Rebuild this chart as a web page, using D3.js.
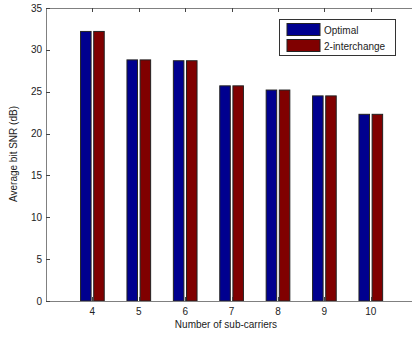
<!DOCTYPE html>
<html>
  <head>
    <title>Average bit SNR</title>
    <script src="https://cdn.jsdelivr.net/npm/d3@7"></script>
    <style>
      body { margin: 0; background: #fff; }
      text { font-family: "Liberation Sans", Arial, sans-serif; font-size: 10px; fill: #222; }
    </style>
  </head>
  <body>
    <svg id="container" width="412" height="337"></svg>
  </body>
  <script>
    const subCarriers = [4, 5, 6, 7, 8, 9, 10];
    const seriesNames = ["Optimal", "2-interchange"];
    const optimal = [32.2, 28.8, 28.7, 25.7, 25.2, 24.5, 22.3];
    const interchange = [32.2, 28.8, 28.7, 25.7, 25.2, 24.5, 22.3];
    const yTicks = [0, 5, 10, 15, 20, 25, 30, 35];
    const colors = ["#00008f", "#800000"];

    const svg = d3.select("#container");
    const plotLeft = 46, plotTop = 8, plotBottom = 301;

    const x = d3.scaleLinear().domain([3, 11]).range([plotLeft, plotLeft + 8 * 46.4]);
    const y = d3.scaleLinear().domain([0, 35]).range([plotBottom, plotTop]);
    const step = x(1) - x(0);
    // bars in a group, offset around the category centre
    const x1 = d3.scaleBand().domain(seriesNames)
      .range([-0.255 * step, 0.255 * step]).paddingInner(0.2);

    const rows = subCarriers.map((c, i) => ({ c, vals: [optimal[i], interchange[i]] }));

    // bars
    const groups = svg.selectAll(".grp").data(rows).enter().append("g")
      .attr("transform", d => `translate(${x(d.c)},0)`);
    groups.selectAll("rect")
      .data(d => d.vals.map((v, k) => ({ v, k })))
      .enter().append("rect")
      .attr("x", d => x1(seriesNames[d.k]))
      .attr("width", x1.bandwidth())
      .attr("y", d => y(d.v))
      .attr("height", d => plotBottom - y(d.v))
      .attr("fill", d => colors[d.k])
      .attr("stroke", "#222")
      .attr("stroke-width", 1);

    // axes lines
    svg.append("line").attr("x1", plotLeft).attr("x2", 412).attr("y1", plotBottom + 0.5).attr("y2", plotBottom + 0.5).attr("stroke", "#808080");
    svg.append("line").attr("x1", plotLeft).attr("x2", 412).attr("y1", plotTop + 0.5).attr("y2", plotTop + 0.5).attr("stroke", "#808080");
    svg.append("line").attr("x1", plotLeft + 0.5).attr("x2", plotLeft + 0.5).attr("y1", plotTop).attr("y2", plotBottom + 1).attr("stroke", "#808080");

    // y ticks
    svg.selectAll(".yt").data(yTicks).enter().append("line")
      .attr("x1", plotLeft).attr("x2", plotLeft + 4)
      .attr("y1", d => Math.round(y(d)) + 0.5).attr("y2", d => Math.round(y(d)) + 0.5)
      .attr("stroke", "#444");
    svg.selectAll(".yl").data(yTicks).enter().append("text")
      .attr("x", plotLeft - 4).attr("y", d => y(d) + 3.5)
      .attr("text-anchor", "end").text(d => d);

    // x ticks (bottom and top)
    svg.selectAll(".xt").data(subCarriers).enter().append("line")
      .attr("x1", d => Math.round(x(d)) + 0.5).attr("x2", d => Math.round(x(d)) + 0.5)
      .attr("y1", plotBottom).attr("y2", plotBottom - 4).attr("stroke", "#444");
    svg.selectAll(".xtt").data(subCarriers).enter().append("line")
      .attr("x1", d => Math.round(x(d)) + 0.5).attr("x2", d => Math.round(x(d)) + 0.5)
      .attr("y1", plotTop).attr("y2", plotTop + 4).attr("stroke", "#444");
    svg.selectAll(".xl").data(subCarriers).enter().append("text")
      .attr("x", d => x(d)).attr("y", plotBottom + 14)
      .attr("text-anchor", "middle").text(d => d);

    // axis titles
    svg.append("text").attr("x", 226).attr("y", 328).attr("text-anchor", "middle").text("Number of sub-carriers");
    svg.append("text").attr("transform", "translate(17,154) rotate(-90)").attr("text-anchor", "middle").text("Average bit SNR (dB)");

    // legend
    const lg = svg.append("g").attr("transform", "translate(279,19)");
    lg.append("rect").attr("x", 0.5).attr("y", 0.5).attr("width", 116).attr("height", 36)
      .attr("fill", "#fff").attr("stroke", "#333");
    seriesNames.forEach((s, k) => {
      lg.append("rect").attr("x", 8).attr("y", 4.5 + k * 16).attr("width", 33).attr("height", 12)
        .attr("fill", colors[k]).attr("stroke", "#222");
      lg.append("text").attr("x", 45).attr("y", 14.5 + k * 16).text(s);
    });
  </script>
</html>
